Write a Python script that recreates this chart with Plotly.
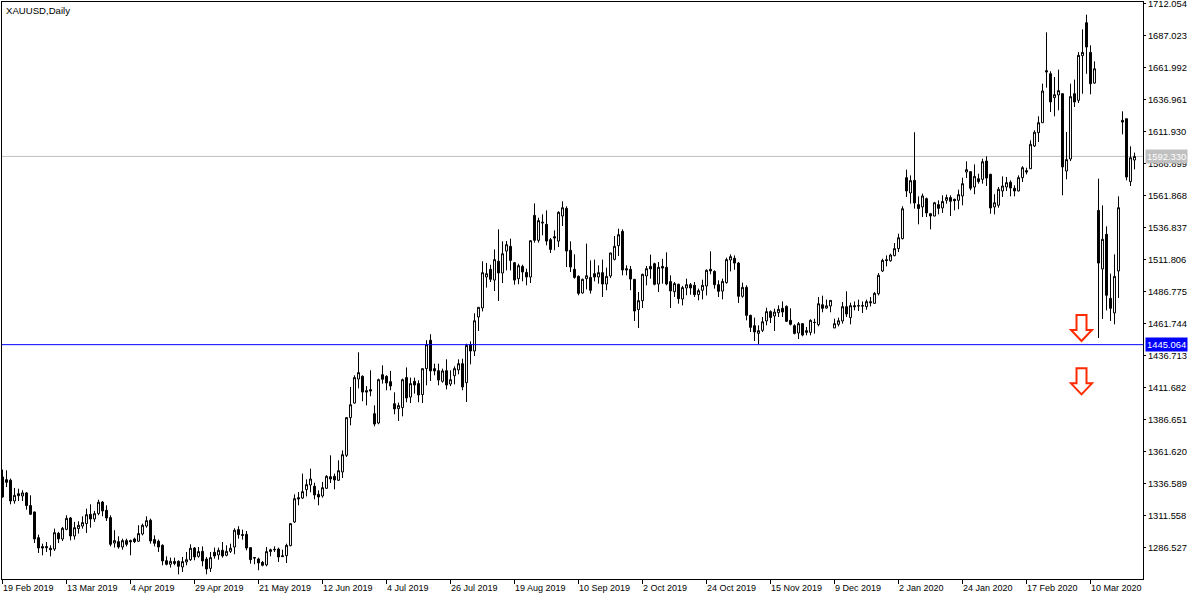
import plotly.graph_objects as go

open_ = [
1341.6,1339.5,1339.0,1322.8,1328.5,1326.7,1329.1,1319.2,1314.2,1294.1,
1287.1,1287.1,1285.8,1285.2,1297.5,1293.1,1300.6,1309.5,1295.4,1301.2,
1303.2,1305.1,1312.4,1308.7,1312.9,1322.0,1315.5,1309.8,1289.9,1291.0,
1286.8,1291.8,1291.8,1293.1,1291.3,1297.0,1303.2,1307.7,1292.6,1291.3,
1288.1,1276.1,1273.3,1275.4,1275.6,1271.2,1275.1,1276.9,1286.0,1279.5,
1283.4,1277.4,1270.1,1282.6,1280.6,1284.2,1280.3,1283.4,1286.8,1300.4,
1296.5,1296.7,1286.3,1278.5,1277.4,1274.8,1272.8,1283.2,1285.0,1285.2,
1280.0,1280.0,1287.9,1306.4,1325.4,1325.1,1331.7,1335.3,1334.3,1328.0,
1326.7,1332.7,1341.8,1342.1,1339.0,1345.5,1358.5,1388.0,1399.4,1418.2,
1420.3,1409.1,1409.9,1391.1,1383.8,1421.6,1420.3,1416.1,1398.9,1395.0,
1395.8,1419.3,1404.1,1416.4,1414.6,1406.0,1426.3,1448.5,1426.3,1424.7,
1416.4,1424.7,1414.3,1420.8,1425.3,1430.2,1415.3,1445.1,1440.1,1466.7,
1473.8,1498.0,1504.0,1495.6,1510.3,1501.1,1518.3,1522.0,1509.2,1496.7,
1506.3,1501.6,1498.0,1546.2,1526.7,1540.2,1539.2,1527.2,1529.5,1526.1,
1545.7,1551.7,1518.9,1504.0,1498.5,1485.5,1496.7,1497.7,1500.6,1498.0,
1501.4,1492.5,1498.8,1511.8,1522.5,1533.7,1504.5,1504.0,1496.2,1472.5,
1479.5,1498.8,1506.3,1508.4,1492.5,1506.3,1505.6,1494.4,1486.5,1492.3,
1480.8,1489.4,1492.0,1491.5,1484.2,1487.6,1491.0,1504.0,1502.4,1492.0,
1487.0,1493.6,1511.3,1512.6,1508.9,1482.9,1489.9,1468.0,1459.9,1453.9,
1456.3,1463.6,1470.9,1467.5,1470.1,1473.5,1475.0,1464.1,1459.9,1454.2,
1461.5,1456.0,1454.7,1462.3,1460.7,1476.3,1473.7,1475.3,1458.1,1461.0,
1463.6,1474.8,1466.2,1475.6,1475.6,1475.6,1474.8,1478.7,1477.4,1484.9,
1502.7,1511.5,1510.7,1514.7,1520.2,1528.0,1575.7,1563.7,1573.6,1554.6,
1552.8,1559.3,1547.5,1545.7,1554.6,1552.0,1558.0,1560.1,1558.8,1558.0,
1561.4,1580.1,1580.4,1568.4,1574.9,1574.4,1588.7,1578.3,1552.8,1554.1,
1565.3,1568.4,1572.1,1567.4,1565.3,1575.7,1581.2,1582.7,1600.5,1610.9,
1618.7,1659.4,1657.0,1638.3,1640.4,1641.4,1580.9,1590.3,1641.4,1636.2,
1671.1,1696.9,1673.7,1649.7,1550.1,1504.3,1531.4,1481.3,1469.9,1502.7,
1620.5,1621.8,1572.6,1589.5]

high = [
1347.3,1346.8,1340.3,1333.0,1332.4,1331.2,1329.8,1327.2,1314.5,1296.5,
1289.4,1290.7,1288.1,1301.2,1298.6,1302.5,1311.6,1310.3,1306.4,1306.9,
1310.8,1316.8,1320.2,1315.0,1323.8,1322.8,1319.4,1311.6,1299.9,1295.2,
1293.3,1293.3,1292.6,1294.1,1303.8,1305.1,1310.8,1309.0,1295.9,1292.6,
1288.9,1279.5,1278.5,1278.5,1276.4,1279.0,1282.9,1288.9,1286.8,1286.8,
1287.3,1279.0,1282.9,1286.3,1286.3,1290.7,1288.1,1289.4,1301.4,1303.0,
1300.4,1299.3,1286.8,1278.5,1278.5,1275.9,1286.8,1285.5,1287.3,1286.3,
1284.7,1289.4,1305.6,1328.0,1329.8,1344.2,1339.7,1348.1,1337.1,1331.1,
1337.7,1342.9,1358.5,1344.2,1354.6,1362.4,1388.5,1412.0,1421.1,1439.1,
1421.1,1412.7,1425.0,1397.6,1418.5,1428.9,1421.1,1424.5,1407.8,1399.7,
1418.5,1427.3,1419.3,1419.3,1417.2,1426.3,1448.5,1453.2,1430.2,1430.2,
1426.3,1433.6,1425.0,1428.1,1433.6,1434.1,1445.8,1447.7,1469.6,1474.3,
1510.3,1509.0,1507.6,1519.6,1535.3,1525.9,1526.1,1528.0,1509.7,1508.4,
1507.6,1504.5,1526.7,1555.6,1544.4,1547.0,1550.1,1528.5,1534.5,1549.4,
1557.2,1553.3,1525.9,1515.7,1499.3,1496.7,1524.1,1511.0,1511.6,1507.1,
1511.6,1505.3,1517.0,1530.1,1535.8,1535.3,1507.1,1506.6,1496.2,1486.3,
1500.6,1506.6,1515.5,1509.2,1509.7,1512.3,1517.3,1499.3,1494.1,1492.8,
1491.0,1496.7,1493.3,1494.1,1488.9,1495.9,1504.0,1518.1,1503.2,1495.4,
1496.7,1513.1,1515.7,1514.9,1509.7,1493.6,1491.5,1468.5,1466.2,1460.2,
1466.7,1474.0,1471.9,1473.2,1475.8,1478.9,1475.8,1473.5,1461.0,1462.8,
1462.0,1458.9,1464.9,1465.4,1482.3,1483.4,1480.3,1479.7,1465.4,1466.2,
1478.4,1486.8,1477.9,1478.9,1480.3,1478.9,1480.3,1482.3,1486.2,1501.1,
1512.3,1514.9,1516.2,1524.6,1531.9,1553.3,1582.0,1577.5,1611.2,1561.1,
1563.2,1560.1,1548.1,1556.7,1558.0,1561.9,1562.4,1561.9,1559.3,1566.3,
1575.7,1588.5,1580.9,1586.1,1578.8,1590.5,1592.4,1578.8,1562.7,1568.4,
1576.7,1576.2,1573.6,1569.7,1577.5,1584.6,1583.5,1604.9,1612.7,1623.7,
1649.2,1689.4,1658.9,1654.4,1660.2,1641.4,1611.4,1649.2,1652.4,1674.0,
1691.7,1703.2,1679.2,1666.7,1574.9,1554.0,1537.6,1500.6,1515.7,1561.1,
1627.6,1621.8,1600.2,1595.3]

low = [
1325.4,1333.7,1320.2,1320.7,1322.8,1322.8,1316.0,1311.9,1289.9,1282.1,
1280.3,1282.9,1279.5,1283.7,1289.9,1291.5,1299.9,1292.0,1292.6,1297.3,
1301.2,1297.8,1301.9,1306.4,1311.6,1310.8,1307.2,1287.3,1286.3,1285.5,
1284.7,1287.3,1280.3,1289.9,1290.8,1295.9,1301.9,1289.4,1287.3,1282.9,
1272.5,1272.5,1270.7,1272.5,1265.4,1267.3,1272.5,1275.9,1276.4,1278.5,
1271.7,1265.4,1267.3,1277.7,1276.9,1278.5,1279.5,1282.1,1281.1,1293.3,
1292.6,1284.2,1273.8,1273.3,1268.6,1271.7,1271.7,1279.5,1282.9,1275.1,
1279.0,1274.3,1287.3,1305.6,1319.4,1324.4,1326.4,1329.6,1324.1,1319.4,
1325.4,1332.2,1336.9,1331.9,1338.4,1340.8,1357.2,1382.0,1398.9,1410.9,
1400.8,1397.6,1404.7,1381.2,1382.8,1414.6,1409.4,1409.4,1390.6,1385.4,
1389.0,1400.0,1399.4,1406.8,1400.0,1399.4,1413.3,1416.7,1421.1,1413.3,
1415.3,1410.1,1412.7,1414.0,1421.9,1409.4,1400.2,1429.7,1436.2,1455.8,
1471.1,1489.7,1494.1,1487.0,1479.2,1493.3,1503.2,1503.2,1492.0,1492.3,
1494.6,1491.5,1493.3,1524.9,1524.9,1530.6,1522.8,1516.8,1518.9,1521.5,
1537.9,1505.8,1501.9,1496.7,1483.7,1485.0,1488.3,1485.0,1494.6,1492.8,
1482.4,1487.6,1497.2,1511.0,1514.4,1499.3,1499.3,1487.6,1463.6,1458.1,
1473.8,1491.5,1496.7,1491.5,1486.3,1492.8,1491.5,1473.8,1482.4,1477.1,
1475.8,1483.7,1484.2,1482.4,1479.8,1480.5,1483.6,1500.1,1488.9,1482.3,
1480.5,1492.8,1502.4,1503.7,1477.7,1481.8,1464.1,1455.0,1447.9,1445.3,
1455.0,1460.2,1462.0,1455.8,1466.7,1466.7,1462.8,1460.2,1453.1,1449.5,
1451.6,1452.4,1452.4,1453.7,1459.4,1470.4,1473.2,1470.4,1458.1,1459.4,
1461.5,1466.7,1461.0,1471.9,1471.4,1469.8,1472.4,1475.0,1477.1,1483.6,
1501.9,1506.3,1510.0,1514.2,1517.5,1527.4,1560.6,1555.4,1551.5,1539.2,
1544.9,1544.9,1535.3,1545.5,1547.0,1548.1,1555.4,1545.7,1550.1,1551.0,
1554.1,1575.4,1565.8,1562.7,1571.0,1571.0,1569.2,1547.5,1547.0,1552.2,
1560.6,1565.3,1561.1,1561.1,1565.0,1572.3,1578.3,1582.5,1599.7,1603.6,
1618.5,1646.1,1627.1,1623.7,1628.4,1561.9,1574.4,1588.7,1631.0,1634.1,
1641.4,1657.0,1640.9,1649.2,1450.3,1465.2,1471.9,1463.6,1461.0,1481.6,
1609.6,1573.6,1569.2,1582.2]

close = [
1325.9,1337.4,1322.8,1327.2,1327.0,1329.1,1319.2,1312.4,1293.1,1286.0,
1286.0,1286.3,1284.7,1298.0,1293.1,1301.4,1309.2,1295.4,1301.9,1303.8,
1305.9,1312.1,1308.7,1312.9,1321.8,1315.0,1309.5,1288.9,1291.8,1286.8,
1291.8,1288.9,1290.8,1291.0,1297.3,1303.8,1307.4,1291.5,1289.7,1286.8,
1275.9,1273.3,1275.6,1274.0,1271.7,1275.4,1276.9,1285.8,1279.0,1283.2,
1275.9,1269.6,1278.5,1279.8,1284.2,1279.8,1283.4,1285.8,1299.9,1296.5,
1295.9,1286.0,1276.9,1278.2,1274.3,1272.5,1283.2,1284.7,1284.7,1279.0,
1279.3,1288.1,1305.1,1324.6,1324.4,1330.1,1335.6,1340.0,1327.5,1325.9,
1333.2,1342.1,1340.0,1339.2,1346.5,1359.0,1388.0,1398.1,1419.3,1423.2,
1408.0,1408.0,1408.8,1383.0,1417.7,1418.0,1415.1,1412.7,1394.8,1397.4,
1417.7,1403.4,1414.6,1413.5,1405.7,1426.3,1445.1,1424.5,1424.5,1417.4,
1424.5,1413.5,1417.7,1426.3,1430.2,1412.0,1444.5,1440.1,1463.8,1474.3,
1501.4,1500.6,1496.2,1511.6,1501.1,1516.2,1523.3,1511.0,1495.6,1506.9,
1501.9,1498.0,1526.4,1526.7,1542.1,1540.8,1526.1,1519.6,1528.5,1548.6,
1552.2,1518.3,1505.8,1497.7,1485.2,1496.2,1499.0,1487.6,1498.0,1501.4,
1492.5,1498.5,1516.8,1522.0,1531.1,1503.5,1503.5,1496.4,1471.4,1479.5,
1500.1,1504.5,1504.3,1492.3,1505.6,1505.0,1492.5,1487.1,1492.8,1481.0,
1489.7,1492.0,1489.4,1484.2,1487.3,1491.5,1503.2,1502.7,1492.0,1486.8,
1494.6,1511.6,1513.9,1508.9,1482.9,1489.9,1468.0,1458.6,1455.0,1456.0,
1463.0,1470.9,1466.4,1470.6,1472.7,1470.6,1463.3,1461.0,1453.9,1461.5,
1452.6,1454.7,1464.1,1462.5,1477.1,1473.5,1475.5,1479.7,1461.5,1463.8,
1474.8,1469.0,1475.6,1474.8,1475.3,1475.3,1478.7,1477.9,1485.2,1499.3,
1511.0,1511.0,1515.2,1520.2,1528.7,1551.4,1565.3,1573.4,1555.9,1551.5,
1561.4,1548.1,1545.7,1556.1,1551.7,1557.0,1560.1,1557.2,1557.7,1562.4,
1571.0,1582.0,1567.4,1576.7,1572.6,1588.2,1575.4,1552.0,1556.1,1566.6,
1569.2,1571.8,1567.6,1565.3,1575.7,1583.5,1580.1,1601.8,1611.2,1618.7,
1643.5,1658.4,1634.9,1640.6,1643.8,1584.1,1589.8,1639.1,1634.9,1671.4,
1673.7,1677.9,1649.2,1660.9,1508.9,1527.5,1483.7,1473.5,1498.5,1552.2,
1619.2,1576.2,1591.3,1592.33]

price_ticks = [1712.054,1687.023,1661.992,1636.961,1611.930,1586.899,1561.868,1536.837,
               1511.806,1486.775,1461.744,1436.713,1411.682,1386.651,1361.620,1336.589,
               1311.558,1286.527]
date_labels = ["19 Feb 2019","13 Mar 2019","4 Apr 2019","29 Apr 2019","21 May 2019","12 Jun 2019",
               "4 Jul 2019","26 Jul 2019","19 Aug 2019","10 Sep 2019","2 Oct 2019","24 Oct 2019",
               "15 Nov 2019","9 Dec 2019","2 Jan 2020","24 Jan 2020","17 Feb 2020","10 Mar 2020"]
date_bars = list(range(0, 288, 16))
last_price = 1592.33
level_price = 1445.064
arrow_bar = 269.75
arrow_tips = [1447.9, 1406.2]

FONT = "Liberation Sans"
bars = list(range(len(close)))

fig = go.Figure(go.Candlestick(
    x=bars, open=open_, high=high, low=low, close=close,
    increasing=dict(line=dict(color="black", width=1), fillcolor="white"),
    decreasing=dict(line=dict(color="black", width=1), fillcolor="black"),
    whiskerwidth=0, hoverinfo="skip", showlegend=False))

shapes = [
    dict(type="line", xref="paper", x0=0, x1=1, yref="y", y0=last_price, y1=last_price,
         line=dict(color="#C0C0C0", width=1), layer="below"),
    dict(type="line", xref="paper", x0=0, x1=1, yref="y", y0=level_price, y1=level_price,
         line=dict(color="#0000FF", width=1), layer="above"),
]
for tip in arrow_tips:
    shapes.append(dict(type="path", xref="x", yref="y",
                       xsizemode="pixel", ysizemode="pixel", xanchor=arrow_bar, yanchor=tip,
                       path="M 0 0 L -10.5 11 L -5 11 L -5 26 L 5 26 L 5 11 L 10.5 11 Z",
                       line=dict(color="#FF2A00", width=2), fillcolor="white", layer="above"))

annotations = [dict(text="XAUUSD,Daily", xref="paper", yref="paper", x=0, y=1, xshift=2, yshift=-1,
                    xanchor="left", yanchor="top", showarrow=False,
                    font=dict(family=FONT, size=9.6, color="black"))]
for b, lab in zip(date_bars, date_labels):
    annotations.append(dict(text=lab, xref="x", yref="paper", x=b, y=0, xshift=-1.5, yshift=-2,
                            xanchor="left", yanchor="top", showarrow=False,
                            font=dict(family=FONT, size=9, color="black")))
for p, col in [(last_price, "#C0C0C0"), (level_price, "#0000FF")]:
    annotations.append(dict(text=f"{p:.3f}", xref="paper", yref="y", x=1, y=p, xshift=2,
                            xanchor="left", yanchor="middle", showarrow=False, bgcolor=col,
                            borderpad=1, font=dict(family=FONT, size=9.4, color="white")))

fig.update_layout(
    width=1200, height=600, autosize=False,
    margin=dict(l=2, r=57, t=2, b=21, pad=0, autoexpand=False),
    paper_bgcolor="white", plot_bgcolor="white", showlegend=False,
    shapes=shapes, annotations=annotations,
    xaxis=dict(range=[-0.125, 285.125], rangeslider=dict(visible=False), showgrid=False, zeroline=False,
               showline=True, mirror=True, linecolor="black", linewidth=1,
               tickmode="array", tickvals=date_bars, ticktext=[""] * len(date_bars),
               ticks="outside", ticklen=4, tickcolor="black", tickwidth=1),
    yaxis=dict(range=[1261.77, 1713.11], side="right", showgrid=False, zeroline=False,
               showline=True, mirror=True, linecolor="black", linewidth=1,
               tickmode="array", tickvals=price_ticks, ticktext=[f"{p:.3f}" for p in price_ticks],
               ticks="outside", ticklen=2, tickcolor="black", tickwidth=1,
               ticklabeloverflow="allow",
               tickfont=dict(family=FONT, size=9.4, color="black")),
)
fig.write_html("out.html", config=dict(displayModeBar=False, staticPlot=True),
               post_script="document.body.style.margin='0';")
